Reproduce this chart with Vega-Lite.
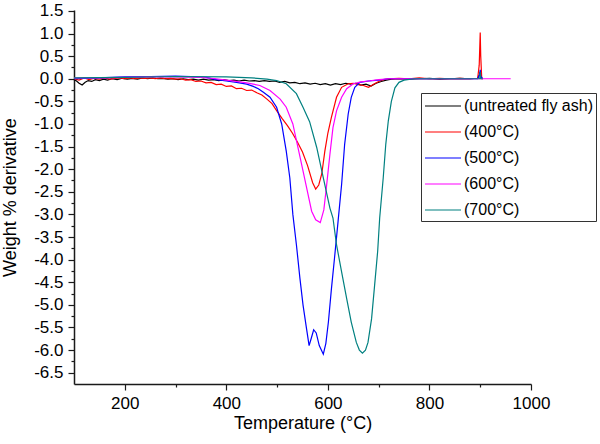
{
  "$schema": "https://vega.github.io/schema/vega-lite/v6.json",
  "width": 457,
  "height": 374,
  "autosize": {"type": "none"},
  "padding": {"left": 74, "top": 10, "right": 69, "bottom": 60},
  "background": "white",
  "config": {
    "font": "Liberation Sans",
    "view": {"stroke": null},
    "axis": {
      "grid": false,
      "domainColor": "#1a1a1a",
      "domainWidth": 1.5,
      "tickColor": "#1a1a1a",
      "tickWidth": 1.2,
      "labelColor": "#000000",
      "titleColor": "#000000",
      "labelFontSize": 17,
      "titleFontSize": 18,
      "titleFontWeight": "normal",
      "labelPadding": 3
    },
    "legend": {
      "orient": "none",
      "legendX": 347,
      "legendY": 83,
      "strokeColor": "#333333",
      "padding": 3,
      "labelFontSize": 16,
      "labelColor": "#000000",
      "symbolType": "M-1,0H3",
      "symbolSize": 324,
      "symbolStrokeWidth": 1.2,
      "labelOffset": 20,
      "rowPadding": 8,
      "title": null
    }
  },
  "data": {"values": [
    {"s":"(untreated fly ash)","t":100,"v":-0.02},{"s":"(untreated fly ash)","t":105,"v":-0.05},{"s":"(untreated fly ash)","t":110,"v":-0.1},{"s":"(untreated fly ash)","t":116,"v":-0.14},{"s":"(untreated fly ash)","t":122,"v":-0.08},{"s":"(untreated fly ash)","t":128,"v":-0.04},{"s":"(untreated fly ash)","t":135,"v":-0.06},{"s":"(untreated fly ash)","t":142,"v":-0.02},{"s":"(untreated fly ash)","t":150,"v":-0.04},{"s":"(untreated fly ash)","t":158,"v":-0.01},{"s":"(untreated fly ash)","t":166,"v":-0.03},{"s":"(untreated fly ash)","t":175,"v":0.0},{"s":"(untreated fly ash)","t":185,"v":-0.02},{"s":"(untreated fly ash)","t":195,"v":0.01},{"s":"(untreated fly ash)","t":205,"v":-0.01},{"s":"(untreated fly ash)","t":215,"v":0.01},{"s":"(untreated fly ash)","t":225,"v":-0.01},{"s":"(untreated fly ash)","t":235,"v":0.02},{"s":"(untreated fly ash)","t":245,"v":0.0},{"s":"(untreated fly ash)","t":255,"v":0.02},{"s":"(untreated fly ash)","t":265,"v":0.0},{"s":"(untreated fly ash)","t":275,"v":0.01},{"s":"(untreated fly ash)","t":285,"v":-0.01},{"s":"(untreated fly ash)","t":295,"v":0.0},{"s":"(untreated fly ash)","t":305,"v":-0.02},{"s":"(untreated fly ash)","t":315,"v":0.0},{"s":"(untreated fly ash)","t":325,"v":-0.02},{"s":"(untreated fly ash)","t":335,"v":-0.01},{"s":"(untreated fly ash)","t":345,"v":-0.03},{"s":"(untreated fly ash)","t":355,"v":-0.01},{"s":"(untreated fly ash)","t":365,"v":-0.03},{"s":"(untreated fly ash)","t":375,"v":-0.02},{"s":"(untreated fly ash)","t":385,"v":-0.04},{"s":"(untreated fly ash)","t":395,"v":-0.02},{"s":"(untreated fly ash)","t":405,"v":-0.04},{"s":"(untreated fly ash)","t":415,"v":-0.03},{"s":"(untreated fly ash)","t":425,"v":-0.05},{"s":"(untreated fly ash)","t":435,"v":-0.03},{"s":"(untreated fly ash)","t":445,"v":-0.05},{"s":"(untreated fly ash)","t":455,"v":-0.04},{"s":"(untreated fly ash)","t":465,"v":-0.06},{"s":"(untreated fly ash)","t":475,"v":-0.04},{"s":"(untreated fly ash)","t":485,"v":-0.06},{"s":"(untreated fly ash)","t":495,"v":-0.05},{"s":"(untreated fly ash)","t":505,"v":-0.08},{"s":"(untreated fly ash)","t":515,"v":-0.06},{"s":"(untreated fly ash)","t":525,"v":-0.09},{"s":"(untreated fly ash)","t":535,"v":-0.08},{"s":"(untreated fly ash)","t":545,"v":-0.11},{"s":"(untreated fly ash)","t":555,"v":-0.09},{"s":"(untreated fly ash)","t":565,"v":-0.12},{"s":"(untreated fly ash)","t":575,"v":-0.1},{"s":"(untreated fly ash)","t":585,"v":-0.13},{"s":"(untreated fly ash)","t":595,"v":-0.11},{"s":"(untreated fly ash)","t":605,"v":-0.14},{"s":"(untreated fly ash)","t":615,"v":-0.11},{"s":"(untreated fly ash)","t":625,"v":-0.13},{"s":"(untreated fly ash)","t":635,"v":-0.1},{"s":"(untreated fly ash)","t":645,"v":-0.12},{"s":"(untreated fly ash)","t":655,"v":-0.1},{"s":"(untreated fly ash)","t":665,"v":-0.14},{"s":"(untreated fly ash)","t":675,"v":-0.12},{"s":"(untreated fly ash)","t":685,"v":-0.16},{"s":"(untreated fly ash)","t":695,"v":-0.1},{"s":"(untreated fly ash)","t":705,"v":-0.06},{"s":"(untreated fly ash)","t":715,"v":-0.03},{"s":"(untreated fly ash)","t":725,"v":-0.01},{"s":"(untreated fly ash)","t":740,"v":0.0},{"s":"(untreated fly ash)","t":760,"v":-0.01},{"s":"(untreated fly ash)","t":780,"v":0.0},{"s":"(untreated fly ash)","t":800,"v":0.01},{"s":"(untreated fly ash)","t":820,"v":-0.01},{"s":"(untreated fly ash)","t":840,"v":0.0},{"s":"(untreated fly ash)","t":860,"v":0.01},{"s":"(untreated fly ash)","t":880,"v":0.0},{"s":"(untreated fly ash)","t":895,"v":0.01},{"s":"(untreated fly ash)","t":899,"v":0.1},{"s":"(untreated fly ash)","t":900,"v":0.15},{"s":"(untreated fly ash)","t":901,"v":0.02},{"s":"(untreated fly ash)","t":905,"v":0.0},

    {"s":"(400°C)","t":100,"v":0.0},{"s":"(400°C)","t":110,"v":-0.03},{"s":"(400°C)","t":120,"v":0.02},{"s":"(400°C)","t":130,"v":-0.02},{"s":"(400°C)","t":140,"v":0.01},{"s":"(400°C)","t":150,"v":-0.01},{"s":"(400°C)","t":160,"v":0.02},{"s":"(400°C)","t":170,"v":-0.01},{"s":"(400°C)","t":180,"v":0.01},{"s":"(400°C)","t":190,"v":0.02},{"s":"(400°C)","t":200,"v":0.0},{"s":"(400°C)","t":210,"v":0.02},{"s":"(400°C)","t":220,"v":0.0},{"s":"(400°C)","t":230,"v":0.02},{"s":"(400°C)","t":240,"v":0.01},{"s":"(400°C)","t":250,"v":0.02},{"s":"(400°C)","t":260,"v":0.0},{"s":"(400°C)","t":270,"v":0.02},{"s":"(400°C)","t":280,"v":0.0},{"s":"(400°C)","t":290,"v":0.01},{"s":"(400°C)","t":300,"v":-0.01},{"s":"(400°C)","t":310,"v":0.0},{"s":"(400°C)","t":320,"v":-0.03},{"s":"(400°C)","t":330,"v":-0.02},{"s":"(400°C)","t":340,"v":-0.06},{"s":"(400°C)","t":350,"v":-0.05},{"s":"(400°C)","t":360,"v":-0.09},{"s":"(400°C)","t":370,"v":-0.08},{"s":"(400°C)","t":380,"v":-0.13},{"s":"(400°C)","t":390,"v":-0.12},{"s":"(400°C)","t":400,"v":-0.17},{"s":"(400°C)","t":410,"v":-0.16},{"s":"(400°C)","t":420,"v":-0.22},{"s":"(400°C)","t":430,"v":-0.21},{"s":"(400°C)","t":440,"v":-0.26},{"s":"(400°C)","t":450,"v":-0.25},{"s":"(400°C)","t":460,"v":-0.31},{"s":"(400°C)","t":470,"v":-0.36},{"s":"(400°C)","t":480,"v":-0.45},{"s":"(400°C)","t":490,"v":-0.55},{"s":"(400°C)","t":500,"v":-0.72},{"s":"(400°C)","t":510,"v":-0.88},{"s":"(400°C)","t":520,"v":-1.03},{"s":"(400°C)","t":530,"v":-1.2},{"s":"(400°C)","t":540,"v":-1.4},{"s":"(400°C)","t":550,"v":-1.62},{"s":"(400°C)","t":560,"v":-1.92},{"s":"(400°C)","t":570,"v":-2.3},{"s":"(400°C)","t":576,"v":-2.44},{"s":"(400°C)","t":582,"v":-2.35},{"s":"(400°C)","t":588,"v":-2.1},{"s":"(400°C)","t":594,"v":-1.6},{"s":"(400°C)","t":600,"v":-1.2},{"s":"(400°C)","t":607,"v":-0.85},{"s":"(400°C)","t":617,"v":-0.41},{"s":"(400°C)","t":627,"v":-0.19},{"s":"(400°C)","t":640,"v":-0.11},{"s":"(400°C)","t":650,"v":-0.1},{"s":"(400°C)","t":660,"v":-0.13},{"s":"(400°C)","t":670,"v":-0.15},{"s":"(400°C)","t":680,"v":-0.19},{"s":"(400°C)","t":690,"v":-0.12},{"s":"(400°C)","t":700,"v":-0.06},{"s":"(400°C)","t":710,"v":-0.02},{"s":"(400°C)","t":720,"v":0.0},{"s":"(400°C)","t":740,"v":0.01},{"s":"(400°C)","t":760,"v":0.0},{"s":"(400°C)","t":780,"v":0.02},{"s":"(400°C)","t":800,"v":0.0},{"s":"(400°C)","t":820,"v":0.01},{"s":"(400°C)","t":840,"v":0.0},{"s":"(400°C)","t":860,"v":0.01},{"s":"(400°C)","t":880,"v":0.0},{"s":"(400°C)","t":895,"v":0.01},{"s":"(400°C)","t":898,"v":0.3},{"s":"(400°C)","t":900,"v":1.02},{"s":"(400°C)","t":901,"v":0.5},{"s":"(400°C)","t":903,"v":0.0},{"s":"(400°C)","t":905,"v":0.0},

    {"s":"(500°C)","t":100,"v":0.0},{"s":"(500°C)","t":150,"v":0.02},{"s":"(500°C)","t":200,"v":0.04},{"s":"(500°C)","t":250,"v":0.05},{"s":"(500°C)","t":300,"v":0.06},{"s":"(500°C)","t":330,"v":0.05},{"s":"(500°C)","t":360,"v":0.03},{"s":"(500°C)","t":380,"v":-0.02},{"s":"(500°C)","t":400,"v":-0.05},{"s":"(500°C)","t":420,"v":-0.08},{"s":"(500°C)","t":440,"v":-0.12},{"s":"(500°C)","t":453,"v":-0.17},{"s":"(500°C)","t":463,"v":-0.22},{"s":"(500°C)","t":473,"v":-0.3},{"s":"(500°C)","t":486,"v":-0.41},{"s":"(500°C)","t":499,"v":-0.63},{"s":"(500°C)","t":509,"v":-1.0},{"s":"(500°C)","t":518,"v":-1.6},{"s":"(500°C)","t":525,"v":-2.19},{"s":"(500°C)","t":531,"v":-3.0},{"s":"(500°C)","t":538,"v":-3.67},{"s":"(500°C)","t":545,"v":-4.42},{"s":"(500°C)","t":551,"v":-5.0},{"s":"(500°C)","t":558,"v":-5.53},{"s":"(500°C)","t":563,"v":-5.9},{"s":"(500°C)","t":567,"v":-5.75},{"s":"(500°C)","t":572,"v":-5.55},{"s":"(500°C)","t":577,"v":-5.62},{"s":"(500°C)","t":583,"v":-5.9},{"s":"(500°C)","t":591,"v":-6.09},{"s":"(500°C)","t":596,"v":-5.85},{"s":"(500°C)","t":601,"v":-5.38},{"s":"(500°C)","t":607,"v":-4.64},{"s":"(500°C)","t":613,"v":-3.97},{"s":"(500°C)","t":620,"v":-3.16},{"s":"(500°C)","t":627,"v":-2.34},{"s":"(500°C)","t":633,"v":-1.45},{"s":"(500°C)","t":640,"v":-0.78},{"s":"(500°C)","t":646,"v":-0.41},{"s":"(500°C)","t":653,"v":-0.19},{"s":"(500°C)","t":663,"v":-0.08},{"s":"(500°C)","t":680,"v":-0.05},{"s":"(500°C)","t":700,"v":-0.03},{"s":"(500°C)","t":720,"v":0.0},{"s":"(500°C)","t":760,"v":0.0},{"s":"(500°C)","t":800,"v":0.0},{"s":"(500°C)","t":850,"v":0.0},{"s":"(500°C)","t":895,"v":0.0},{"s":"(500°C)","t":899,"v":0.1},{"s":"(500°C)","t":900,"v":0.2},{"s":"(500°C)","t":901,"v":0.05},{"s":"(500°C)","t":905,"v":0.0},

    {"s":"(600°C)","t":100,"v":0.02},{"s":"(600°C)","t":150,"v":0.02},{"s":"(600°C)","t":200,"v":0.03},{"s":"(600°C)","t":250,"v":0.04},{"s":"(600°C)","t":300,"v":0.04},{"s":"(600°C)","t":350,"v":0.03},{"s":"(600°C)","t":380,"v":0.0},{"s":"(600°C)","t":400,"v":-0.03},{"s":"(600°C)","t":420,"v":-0.06},{"s":"(600°C)","t":440,"v":-0.09},{"s":"(600°C)","t":466,"v":-0.15},{"s":"(600°C)","t":486,"v":-0.26},{"s":"(600°C)","t":506,"v":-0.45},{"s":"(600°C)","t":518,"v":-0.63},{"s":"(600°C)","t":531,"v":-1.0},{"s":"(600°C)","t":541,"v":-1.52},{"s":"(600°C)","t":551,"v":-2.04},{"s":"(600°C)","t":561,"v":-2.56},{"s":"(600°C)","t":568,"v":-2.93},{"s":"(600°C)","t":576,"v":-3.12},{"s":"(600°C)","t":585,"v":-3.18},{"s":"(600°C)","t":592,"v":-2.9},{"s":"(600°C)","t":597,"v":-2.41},{"s":"(600°C)","t":604,"v":-1.67},{"s":"(600°C)","t":610,"v":-1.08},{"s":"(600°C)","t":617,"v":-0.71},{"s":"(600°C)","t":627,"v":-0.41},{"s":"(600°C)","t":637,"v":-0.22},{"s":"(600°C)","t":650,"v":-0.11},{"s":"(600°C)","t":665,"v":-0.07},{"s":"(600°C)","t":680,"v":-0.05},{"s":"(600°C)","t":700,"v":-0.02},{"s":"(600°C)","t":720,"v":0.0},{"s":"(600°C)","t":800,"v":0.0},{"s":"(600°C)","t":900,"v":0.0},{"s":"(600°C)","t":960,"v":0.0},

    {"s":"(700°C)","t":100,"v":0.02},{"s":"(700°C)","t":200,"v":0.03},{"s":"(700°C)","t":300,"v":0.05},{"s":"(700°C)","t":400,"v":0.04},{"s":"(700°C)","t":450,"v":0.02},{"s":"(700°C)","t":480,"v":-0.01},{"s":"(700°C)","t":499,"v":-0.04},{"s":"(700°C)","t":518,"v":-0.11},{"s":"(700°C)","t":538,"v":-0.33},{"s":"(700°C)","t":551,"v":-0.63},{"s":"(700°C)","t":564,"v":-0.95},{"s":"(700°C)","t":578,"v":-1.52},{"s":"(700°C)","t":591,"v":-2.19},{"s":"(700°C)","t":604,"v":-2.86},{"s":"(700°C)","t":610,"v":-3.08},{"s":"(700°C)","t":617,"v":-3.67},{"s":"(700°C)","t":627,"v":-4.27},{"s":"(700°C)","t":637,"v":-4.86},{"s":"(700°C)","t":646,"v":-5.38},{"s":"(700°C)","t":656,"v":-5.83},{"s":"(700°C)","t":662,"v":-6.0},{"s":"(700°C)","t":668,"v":-6.07},{"s":"(700°C)","t":674,"v":-6.0},{"s":"(700°C)","t":679,"v":-5.83},{"s":"(700°C)","t":686,"v":-5.31},{"s":"(700°C)","t":692,"v":-4.57},{"s":"(700°C)","t":698,"v":-3.82},{"s":"(700°C)","t":702,"v":-3.08},{"s":"(700°C)","t":709,"v":-2.19},{"s":"(700°C)","t":714,"v":-1.45},{"s":"(700°C)","t":719,"v":-0.93},{"s":"(700°C)","t":725,"v":-0.5},{"s":"(700°C)","t":732,"v":-0.2},{"s":"(700°C)","t":740,"v":-0.08},{"s":"(700°C)","t":750,"v":-0.03},{"s":"(700°C)","t":770,"v":0.0},{"s":"(700°C)","t":850,"v":0.0},{"s":"(700°C)","t":899,"v":0.0},{"s":"(700°C)","t":900,"v":0.15},{"s":"(700°C)","t":901,"v":0.0},{"s":"(700°C)","t":905,"v":0.0}
  ]},
  "layer": [
    {
      "mark": {"type": "line", "strokeWidth": 1.2},
      "encoding": {
        "x": {"field": "t", "type": "quantitative",
          "scale": {"domain": [100, 1000], "nice": false, "zero": false},
          "axis": {"values": [200, 400, 600, 800, 1000], "format": "d", "tickSize": 6, "labelPadding": 5, "title": "Temperature (°C)", "titlePadding": 3, "labelFlush": false}},
        "y": {"field": "v", "type": "quantitative",
          "scale": {"domain": [-6.75, 1.52], "nice": false, "zero": false},
          "axis": {"values": [-6.5,-6,-5.5,-5,-4.5,-4,-3.5,-3,-2.5,-2,-1.5,-1,-0.5,0,0.5,1,1.5], "tickSize": 6, "labelPadding": 5, "title": "Weight % derivative", "titlePadding": 14, "labelExpr": "replace(format(datum.value, '.1f'), '−', '-')"}},
        "color": {"field": "s", "type": "nominal", "sort": null,
          "scale": {"domain": ["(untreated fly ash)", "(400°C)", "(500°C)", "(600°C)", "(700°C)"], "range": ["#000000", "#ff0000", "#0000ff", "#ff00ff", "#008080"]}},
        "order": {"field": "t", "type": "quantitative"}
      }
    },
    {
      "mark": {"type": "point", "opacity": 0},
      "encoding": {
        "x": {"field": "t", "type": "quantitative",
          "axis": {"orient": "bottom", "values": [300, 500, 700, 900], "tickSize": 3, "labels": false, "domain": false, "title": null}},
        "y": {"field": "v", "type": "quantitative",
          "axis": {"orient": "left", "values": [-6.25,-5.75,-5.25,-4.75,-4.25,-3.75,-3.25,-2.75,-2.25,-1.75,-1.25,-0.75,-0.25,0.25,0.75,1.25], "tickSize": 3, "labels": false, "domain": false, "title": null}}
      }
    }
  ],
  "resolve": {"axis": {"x": "independent", "y": "independent"}}
}
